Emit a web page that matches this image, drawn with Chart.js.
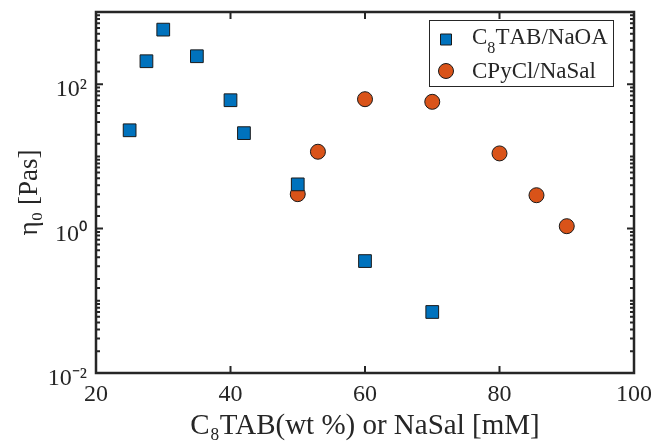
<!DOCTYPE html>
<html><head><meta charset="utf-8">
<script src="https://cdn.jsdelivr.net/npm/chart.js@4/dist/chart.umd.min.js"></script>
<style>html,body{margin:0;padding:0;background:#fff}#wrap{width:651px;height:441px;position:relative}</style>
</head><body><div id="wrap"><canvas id="c" width="651" height="441"></canvas></div>
<script>
// ---- data ----
const seriesNames = ['C₈TAB/NaOA', 'CPyCl/NaSal'];
const c8tabX   = [25, 27.5, 30, 35, 40, 42, 50, 60, 70];
const c8tabEta = [23, 208, 570, 244, 60, 21, 4.1, 0.355, 0.07];
const cpyclX   = [50, 53, 60, 70, 80, 85.5, 90];
const cpyclEta = [3.0, 11.6, 62, 57, 11, 2.9, 1.08];
const xTickValues = [20, 40, 60, 80, 100];
const yLabelExps = [-2, 0, 2];
const xTitle = 'C₈TAB(wt %) or NaSal [mM]';
const yTitle = 'η₀ [Pas]';

const INK = '#262626';
const SERIF = '"Liberation Serif", "Times New Roman", serif';
const SUP = {'-':'⁻','0':'⁰','1':'¹','2':'²','3':'³','4':'⁴','5':'⁵','6':'⁶','7':'⁷','8':'⁸','9':'⁹'};
const toSup = s => String(s).split('').map(ch => SUP[ch] || ch).join('');
const expOf = v => Math.log10(v);
const isLabeled = v => { const e = expOf(v); const r = Math.round(e); return Math.abs(e - r) < 1e-6 && yLabelExps.includes(r); };

const pts = (xs, ys) => xs.map((x, i) => ({x: x, y: ys[i]}));

// draw text where unicode subscript digits are rendered as lowered small digits
function drawRich(ctx, text, x, y, size) {
  const SUB = '₀₁₂₃₄₅₆₇₈₉';
  let cx = x;
  for (const ch of text) {
    const si = SUB.indexOf(ch);
    if (si >= 0) {
      ctx.font = (size * 0.7) + 'px ' + SERIF;
      ctx.fillText(String(si), cx, y + size * 0.4);
      cx += ctx.measureText(String(si)).width;
    } else {
      ctx.font = size + 'px ' + SERIF;
      ctx.fillText(ch, cx, y);
      cx += ctx.measureText(ch).width;
    }
  }
}

const zeroPad = s => { s.paddingTop = 0; s.paddingBottom = 0; s.paddingLeft = 0; s.paddingRight = 0; };

const framePlugin = {
  id: 'frame',
  afterDraw(chart) {
    const ctx = chart.ctx, a = chart.chartArea;
    const xs = chart.scales.x, ys = chart.scales.y;
    ctx.save();
    ctx.strokeStyle = INK;
    // ticks
    ctx.lineWidth = 2;
    ys.ticks.forEach(t => {
      const p = ys.getPixelForValue(t.value);
      const len = isLabeled(t.value) ? 7 : 4;
      ctx.beginPath();
      ctx.moveTo(a.left, p); ctx.lineTo(a.left + len, p);
      ctx.moveTo(a.right, p); ctx.lineTo(a.right - len, p);
      ctx.stroke();
    });
    xs.ticks.forEach(t => {
      const p = xs.getPixelForValue(t.value);
      ctx.beginPath();
      ctx.moveTo(p, a.bottom); ctx.lineTo(p, a.bottom - 7);
      ctx.moveTo(p, a.top); ctx.lineTo(p, a.top + 7);
      ctx.stroke();
    });
    // box
    ctx.lineWidth = 2.5;
    ctx.strokeRect(a.left, a.top, a.right - a.left, a.bottom - a.top);

    // legend
    const bw = 184, bh = 66;
    const bx = a.right - 21 - bw, by = a.top + 8;
    ctx.fillStyle = '#fff';
    ctx.fillRect(bx, by, bw, bh);
    ctx.lineWidth = 1;
    ctx.strokeRect(bx + 0.5, by + 0.5, bw, bh);
    chart.data.datasets.forEach((ds, i) => {
      const my = by + 19.5 + i * 31.5;
      const mx = bx + 17;
      ctx.fillStyle = ds.backgroundColor;
      ctx.strokeStyle = ds.borderColor;
      ctx.lineWidth = ds.borderWidth;
      ctx.beginPath();
      if (ds.pointStyle === 'rect') {
        const h = 5.5;
        ctx.rect(mx - h, my - h, 2 * h, 2 * h);
      } else {
        ctx.arc(mx, my, 7.5, 0, Math.PI * 2);
      }
      ctx.fill(); ctx.stroke();
      ctx.fillStyle = INK;
      ctx.textBaseline = 'alphabetic';
      ctx.textAlign = 'left';
      drawRich(ctx, ds.label, bx + 43, i === 0 ? my + 4 : my + 7, 23);
    });
    ctx.restore();
  }
};

Chart.defaults.font.family = SERIF;
Chart.defaults.color = INK;

new Chart(document.getElementById('c'), {
  type: 'scatter',
  data: {
    datasets: [
      { label: seriesNames[0], data: pts(c8tabX, c8tabEta), pointStyle: 'rect', pointRadius: 9,
        backgroundColor: '#0072BD', borderColor: '#1a1a1a', borderWidth: 1 },
      { label: seriesNames[1], data: pts(cpyclX, cpyclEta), pointStyle: 'circle', pointRadius: 7.5,
        backgroundColor: '#D95319', borderColor: '#1a1a1a', borderWidth: 1 }
    ]
  },
  options: {
    responsive: false,
    animation: false,
    devicePixelRatio: 1,
    layout: { autoPadding: false, padding: { top: 12, right: 17, left: 0, bottom: 0 } },
    plugins: { legend: { display: false }, tooltip: { enabled: false } },
    scales: {
      x: {
        type: 'linear', min: 20, max: 100,
        afterBuildTicks: s => { s.ticks = xTickValues.map(v => ({value: v})); },
        afterFit: s => { s.height = 68; zeroPad(s); },
        grid: { display: false, drawTicks: false },
        border: { display: false },
        ticks: { font: { size: 24 }, color: INK, padding: 7, maxRotation: 0 },
        title: { display: true, text: xTitle, font: { size: 29, lineHeight: 1 }, color: INK, padding: 0 }
      },
      y: {
        type: 'logarithmic', min: 0.01, max: 1000,
        afterFit: s => { s.width = 96; zeroPad(s); },
        grid: { display: false, drawTicks: false },
        border: { display: false },
        ticks: {
          autoSkip: false, font: { size: 24 }, color: INK, padding: 9, labelOffset: 6,
          callback: v => isLabeled(v) ? '10' + toSup(Math.round(expOf(v))) : ''
        },
        title: { display: true, text: yTitle, font: { size: 27, lineHeight: 1 }, color: INK, padding: { top: 16, bottom: 0 } }
      }
    }
  },
  plugins: [framePlugin]
});
</script></body></html>
